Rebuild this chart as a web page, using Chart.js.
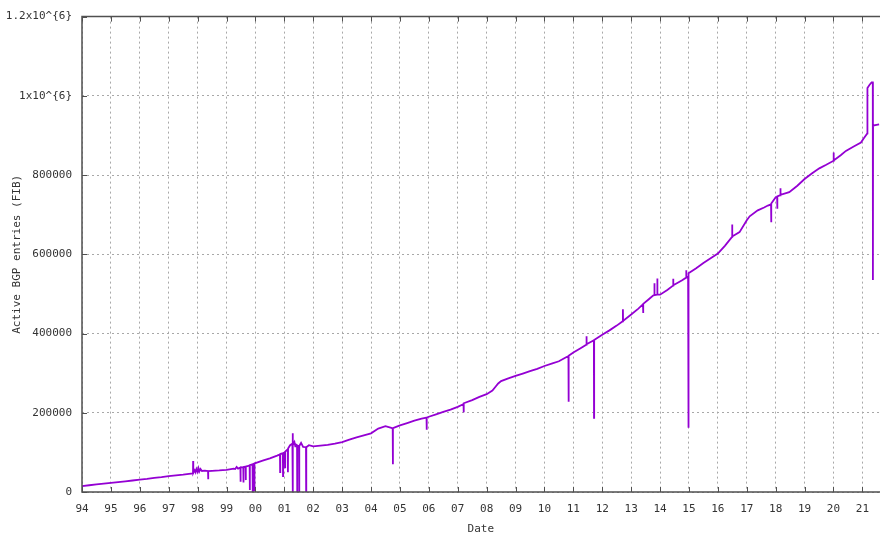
<!DOCTYPE html>
<html><head><meta charset="utf-8">
<script src="https://cdn.jsdelivr.net/npm/chart.js@4"></script>
<style>html,body{margin:0;padding:0;background:#fff;overflow:hidden}</style>
</head><body>
<canvas id="c" width="880" height="535"></canvas>
<script>
const dates = [
1994.00,1994.25,1994.50,1994.75,1995.00,1995.25,1995.50,1995.75,1996.00,1996.25,1996.50,1996.75,
1997.00,1997.25,1997.50,1997.70,1997.84,1997.845,1997.85,1997.90,1997.93,1997.96,1998.00,1998.03,1998.06,1998.10,1998.15,1998.25,
1998.36,1998.365,1998.37,1998.50,1998.75,1999.00,1999.25,1999.30,1999.35,1999.40,1999.48,1999.485,1999.49,1999.58,1999.585,1999.59,
1999.66,1999.665,1999.67,1999.80,1999.805,1999.81,1999.90,1999.905,1999.91,1999.96,1999.965,1999.97,
2000.00,2000.25,2000.50,2000.75,2000.85,2000.855,2000.86,2000.95,2000.955,2000.96,2001.02,2001.025,2001.03,
2001.12,2001.125,2001.13,2001.20,2001.28,2001.285,2001.29,2001.295,2001.30,2001.35,2001.38,2001.40,2001.44,2001.445,2001.45,
2001.51,2001.515,2001.52,2001.58,2001.65,2001.75,2001.755,2001.76,2001.85,2002.00,2002.25,2002.50,2002.75,2003.00,2003.25,
2003.50,2003.75,2004.00,2004.25,2004.50,2004.70,2004.75,2004.755,2004.76,2005.00,2005.25,2005.50,2005.75,
2005.92,2005.925,2005.93,2006.00,2006.25,2006.50,2006.75,2007.00,2007.20,2007.205,2007.21,2007.50,2007.75,
2008.00,2008.20,2008.30,2008.40,2008.50,2008.75,2009.00,2009.25,2009.50,2009.75,2010.00,2010.25,2010.50,2010.75,
2010.83,2010.835,2010.84,2011.00,2011.25,2011.45,2011.455,2011.46,2011.71,2011.715,2011.72,2012.00,2012.25,
2012.50,2012.71,2012.715,2012.72,2013.00,2013.25,2013.41,2013.415,2013.42,2013.60,2013.76,2013.80,2013.805,
2013.81,2013.90,2013.905,2013.91,2014.00,2014.25,2014.45,2014.455,2014.46,2014.75,2014.90,2014.905,2014.91,
2014.97,2014.975,2014.98,2015.00,2015.25,2015.50,2015.75,2016.00,2016.25,2016.49,2016.495,2016.50,2016.75,
2017.00,2017.10,2017.38,2017.60,2017.73,2017.84,2017.845,2017.85,2018.00,2018.05,2018.055,2018.06,2018.16,
2018.165,2018.17,2018.47,2018.75,2019.00,2019.25,2019.51,2019.75,2020.00,2020.005,2020.01,2020.25,2020.43,
2020.70,2020.95,2021.05,2021.17,2021.175,2021.25,2021.32,2021.36,2021.365,2021.37,2021.58
];
const fibEntries = [
15000,17000,19000,21000,23000,25000,27000,29000,31000,33000,35500,37500,
40000,42000,44000,46000,47000,78000,48000,55000,50000,58000,51000,60000,52000,58000,53000,54000,
53000,32000,53000,53500,54500,56000,59000,58000,63000,59000,62000,26000,62000,63000,24000,63000,
64000,30000,64000,67000,5000,68000,70000,0,70000,72000,2000,72000,
73000,79000,85000,92000,95000,50000,96000,98000,40000,98000,100000,62000,102000,
108000,50000,110000,118000,122000,148000,120000,0,118000,126000,115000,120000,118000,0,116000,
117000,0,116000,124000,114000,113000,0,113000,118000,115000,117000,119000,122000,126000,132000,
138000,143000,148000,160000,166000,162000,160000,70000,161000,168000,174000,180000,185000,
188000,157000,188000,190000,196000,202000,208000,215000,222000,201000,224000,232000,240000,
247000,256000,265000,274000,280000,287000,293000,299000,305000,311000,318000,324000,330000,340000,
343000,228000,344000,352000,363000,372000,393000,373000,383000,187000,384000,397000,408000,
420000,431000,461000,432000,448000,463000,474000,452000,475000,486000,496000,497000,527000,
497000,498000,539000,498000,498000,510000,521000,538000,522000,534000,541000,560000,542000,
545000,162000,548000,552000,565000,578000,590000,602000,622000,644000,675000,645000,656000,
686000,696000,711000,718000,723000,726000,681000,728000,744000,745000,715000,746000,749000,
767000,750000,757000,773000,790000,804000,817000,826000,836000,857000,837000,850000,861000,
872000,882000,893000,905000,1020000,1028000,1034000,1034000,535000,925000,928000
];
const xTickYears = [1994,1995,1996,1997,1998,1999,2000,2001,2002,2003,2004,2005,2006,2007,2008,2009,2010,2011,2012,2013,2014,2015,2016,2017,2018,2019,2020,2021];
const xTickLabels = ['94','95','96','97','98','99','00','01','02','03','04','05','06','07','08','09','10','11','12','13','14','15','16','17','18','19','20','21'];
const yTickValues = [0,200000,400000,600000,800000,1000000,1200000];
const yTickLabels = ['0','200000','400000','600000','800000','1x10^{6}','1.2x10^{6}'];
const xTitle = 'Date';
const yTitle = 'Active BGP entries (FIB)';

const FONT = {family:'"DejaVu Sans Mono", monospace', size:11};
const TEXT = '#333333';
const AXIS = '#505050';

const framePlugin = {
  id:'frame',
  afterDatasetsDraw(chart){
    const {ctx, chartArea:a, scales:{x,y}} = chart;
    ctx.save();
    ctx.strokeStyle = AXIS; ctx.lineWidth = 1;
    ctx.beginPath();
    xTickYears.forEach(v=>{
      const px = Math.round(x.getPixelForValue(v))+0.5;
      ctx.moveTo(px,a.bottom); ctx.lineTo(px,a.bottom-5);
      ctx.moveTo(px,a.top); ctx.lineTo(px,a.top+5);
    });
    yTickValues.forEach(v=>{
      const py = Math.round(y.getPixelForValue(v))+0.5;
      ctx.moveTo(a.left,py); ctx.lineTo(a.left+5,py);
    });
    ctx.stroke();
    ctx.lineWidth = 1.5;
    ctx.beginPath();
    ctx.moveTo(a.right+2,a.bottom); ctx.lineTo(a.left,a.bottom); ctx.lineTo(a.left,a.top); ctx.lineTo(a.right+2,a.top);
    ctx.stroke();
    ctx.restore();
  }
};

new Chart(document.getElementById('c'), {
  type:'line',
  data:{datasets:[{
    data: dates.map((d,i)=>({x:d,y:fibEntries[i]})),
    borderColor:'#9400d3', borderWidth:1.8, pointRadius:0, tension:0, fill:false
  }]},
  options:{
    responsive:false, animation:false,
    layout:{padding:{left:0,right:0,top:13,bottom:0}},
    plugins:{legend:{display:false}, tooltip:{enabled:false}},
    scales:{
      x:{type:'linear', min:1994, max:2021.6,
        afterFit(s){ s.height = 43; },
        grid:{color:'#a8a8a8', lineWidth:1, drawTicks:false},
        border:{display:false, dash:[2,3]},
        ticks:{stepSize:1, includeBounds:false, autoSkip:false, maxRotation:0, padding:11, color:TEXT, font:FONT,
          callback:(v)=>{const i=xTickYears.indexOf(v); return i>=0?xTickLabels[i]:'';}},
        title:{display:true, text:xTitle, color:TEXT, font:FONT, padding:{top:0,bottom:-1}}
      },
      y:{type:'linear', min:0, max:1200000,
        afterFit(s){ s.width = 82; },
        grid:{color:'#a8a8a8', lineWidth:1, drawTicks:false},
        border:{display:false, dash:[2,3]},
        ticks:{stepSize:200000, padding:10, color:TEXT, font:FONT,
          callback:(v)=>{const i=yTickValues.indexOf(v); return i>=0?yTickLabels[i]:'';}},
        title:{display:true, text:yTitle, color:TEXT, font:FONT, padding:{top:11,bottom:0}}
      }
    }
  },
  plugins:[framePlugin]
});
</script>
</body></html>
